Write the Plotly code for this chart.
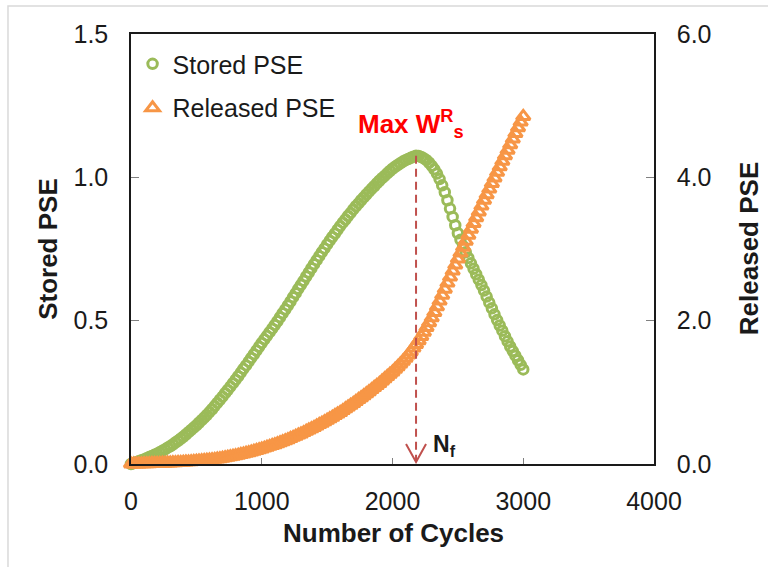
import plotly.graph_objects as go

# Cycle counts at which both energies were recorded
cycles = list(range(0, 3001, 20))

# Stored plastic strain energy (left axis)
stored_pse = [
    0.000,
    0.003, 0.006, 0.010, 0.013, 0.016,
    0.020, 0.024, 0.028, 0.032, 0.036,
    0.041, 0.046, 0.051, 0.057, 0.062,
    0.068, 0.075, 0.081, 0.088, 0.095,
    0.103, 0.111, 0.119, 0.127, 0.135,
    0.144, 0.153, 0.162, 0.171, 0.181,
    0.191, 0.202, 0.213, 0.224, 0.235,
    0.247, 0.258, 0.270, 0.282, 0.294,
    0.306, 0.319, 0.332, 0.344, 0.357,
    0.370, 0.383, 0.396, 0.409, 0.422,
    0.435, 0.447, 0.460, 0.472, 0.485,
    0.498, 0.512, 0.526, 0.539, 0.553,
    0.567, 0.582, 0.596, 0.611, 0.625,
    0.639, 0.654, 0.668, 0.683, 0.697,
    0.711, 0.725, 0.739, 0.752, 0.766,
    0.779, 0.792, 0.804, 0.817, 0.830,
    0.842, 0.853, 0.865, 0.876, 0.888,
    0.899, 0.909, 0.920, 0.930, 0.940,
    0.950, 0.960, 0.969, 0.979, 0.988,
    0.997, 1.005, 1.014, 1.022, 1.030,
    1.037, 1.043, 1.049, 1.055, 1.060,
    1.064, 1.068, 1.072, 1.075, 1.074,
    1.071, 1.066, 1.060, 1.051, 1.040,
    1.028, 1.013, 0.994, 0.972, 0.948,
    0.920, 0.891, 0.862, 0.833, 0.805,
    0.782, 0.760, 0.739, 0.719, 0.700,
    0.681, 0.662, 0.643, 0.624, 0.605,
    0.584, 0.563, 0.543, 0.522, 0.502,
    0.483, 0.465, 0.446, 0.428, 0.410,
    0.394, 0.378, 0.362, 0.346, 0.330,
]

# Released plastic strain energy (right axis)
released_pse = [
    0.000,
    0.000, 0.001, 0.001, 0.002, 0.003,
    0.004, 0.005, 0.006, 0.007, 0.008,
    0.009, 0.011, 0.012, 0.014, 0.015,
    0.017, 0.019, 0.021, 0.023, 0.025,
    0.028, 0.030, 0.033, 0.035, 0.038,
    0.041, 0.045, 0.049, 0.052, 0.056,
    0.061, 0.065, 0.070, 0.075, 0.080,
    0.087, 0.094, 0.101, 0.108, 0.115,
    0.123, 0.132, 0.141, 0.149, 0.158,
    0.168, 0.178, 0.189, 0.199, 0.210,
    0.222, 0.234, 0.246, 0.258, 0.270,
    0.284, 0.298, 0.312, 0.326, 0.340,
    0.356, 0.372, 0.388, 0.404, 0.420,
    0.438, 0.456, 0.474, 0.492, 0.510,
    0.530, 0.550, 0.570, 0.590, 0.610,
    0.632, 0.654, 0.676, 0.698, 0.720,
    0.745, 0.770, 0.795, 0.820, 0.845,
    0.872, 0.899, 0.926, 0.953, 0.980,
    1.009, 1.038, 1.067, 1.096, 1.125,
    1.157, 1.189, 1.221, 1.253, 1.285,
    1.321, 1.358, 1.396, 1.435, 1.475,
    1.520, 1.566, 1.617, 1.668, 1.720,
    1.780, 1.840, 1.905, 1.972, 2.040,
    2.115, 2.193, 2.273, 2.356, 2.440,
    2.524, 2.608, 2.692, 2.776, 2.860,
    2.943, 3.026, 3.109, 3.192, 3.275,
    3.356, 3.437, 3.518, 3.599, 3.680,
    3.758, 3.836, 3.914, 3.992, 4.070,
    4.147, 4.224, 4.301, 4.378, 4.455,
    4.534, 4.613, 4.692, 4.771, 4.850,
]

x_ticks = [0, 1000, 2000, 3000, 4000]
stored_ticks = [0.0, 0.5, 1.0, 1.5]
released_ticks = [0.0, 2.0, 4.0, 6.0]

GREEN = "#9BBB59"
ORANGE = "#F79646"
DASH_RED = "#C0504D"
TEXT = "#1a1a1a"
FONT = "Liberation Sans, Arial, sans-serif"

# Cycle at which the stored energy peaks
peak_idx = max(range(len(stored_pse)), key=lambda i: stored_pse[i])
nf_cycle = cycles[peak_idx]
peak_value = stored_pse[peak_idx]

# plot area geometry (pixels) used to size the arrow head
plot_w, plot_h = 523, 430
dx = (x_ticks[-1] - x_ticks[0]) / plot_w
dy = (stored_ticks[-1] - stored_ticks[0]) / plot_h

fig = go.Figure()
fig.add_trace(go.Scatter(
    x=cycles, y=stored_pse, mode="markers", name="Stored PSE",
    marker=dict(symbol="circle-open", size=9.5, color=GREEN, line=dict(width=3)),
    cliponaxis=False, legend="legend", showlegend=True,
))
fig.add_trace(go.Scatter(
    x=cycles, y=released_pse, mode="markers", name="Released PSE", yaxis="y2",
    marker=dict(symbol="triangle-up-open", size=12, color=ORANGE, line=dict(width=3)),
    cliponaxis=False, legend="legend2", showlegend=True,
))

axis_common = dict(
    showgrid=False, zeroline=False, showline=True, linecolor=TEXT, linewidth=1.5,
    ticks="inside", tickcolor="#808080", tickwidth=1,
    tickfont=dict(family=FONT, size=25, color=TEXT),
)

legend_common = dict(xanchor="left", yanchor="middle", bgcolor="rgba(0,0,0,0)",
                     font=dict(family=FONT, size=25, color=TEXT))

fig.update_layout(
    width=768, height=567,
    margin=dict(l=131, r=114, t=34, b=103),
    paper_bgcolor="white", plot_bgcolor="white",
    font=dict(family=FONT, color=TEXT),
    showlegend=True,
    xaxis=dict(range=[x_ticks[0], x_ticks[-1]], tickvals=x_ticks, tickformat="d",
               ticklen=6, mirror=True, ticklabelstandoff=14, **axis_common),
    yaxis=dict(range=[stored_ticks[0], stored_ticks[-1]], tickvals=stored_ticks,
               tickformat=".1f", ticklen=8, ticklabelstandoff=16, **axis_common),
    yaxis2=dict(range=[released_ticks[0], released_ticks[-1]], tickvals=released_ticks,
                tickformat=".1f", ticklen=8, overlaying="y", side="right",
                ticklabelstandoff=16, **axis_common),
    legend=dict(x=0.003, y=0.930, **legend_common),
    legend2=dict(x=0.003, y=0.828, **legend_common),
)

# axis titles
title_font = dict(family=FONT, size=26, color=TEXT)
fig.add_annotation(text="<b>Number of Cycles</b>", xref="paper", yref="paper",
                   x=0.501, y=-0.160, xanchor="center", yanchor="middle",
                   showarrow=False, font=title_font)
fig.add_annotation(text="<b>Stored PSE</b>", xref="paper", yref="paper",
                   x=-0.159, y=0.5, xanchor="center", yanchor="middle",
                   textangle=-90, showarrow=False, font=title_font)
fig.add_annotation(text="<b>Released PSE</b>", xref="paper", yref="paper",
                   x=1.182, y=0.5, xanchor="center", yanchor="middle",
                   textangle=-90, showarrow=False, font=title_font)

# peak marker: dashed drop line with an open arrow head
tip_y = 2 * dy
fig.add_shape(type="line", xref="x", yref="y", x0=nf_cycle, x1=nf_cycle,
              y0=peak_value, y1=tip_y,
              line=dict(color=DASH_RED, width=2, dash="8px,5px"))
fig.add_shape(type="path", xref="x", yref="y",
              path=(f"M {nf_cycle - 10 * dx},{tip_y + 18 * dy} "
                    f"L {nf_cycle},{tip_y} "
                    f"L {nf_cycle + 10 * dx},{tip_y + 18 * dy}"),
              line=dict(color=DASH_RED, width=2))

fig.add_annotation(text="<b>Max W<sup>R</sup><sub>s</sub></b>", xref="x", yref="paper",
                   x=nf_cycle, xshift=-5, y=0.791, xanchor="center", yanchor="middle",
                   showarrow=False, font=dict(family=FONT, size=26, color="#FF0000"))
fig.add_annotation(text="<b>N<sub>f</sub></b>", xref="x", yref="paper",
                   x=nf_cycle, xshift=15, y=0.044, xanchor="left", yanchor="middle",
                   showarrow=False, font=dict(family=FONT, size=23, color=TEXT))

# light outer chart border
fig.add_shape(type="rect", xref="paper", yref="paper",
              x0=-0.2352, x1=1.25, y0=-0.3, y1=1.0651,
              line=dict(color="#D9D9D9", width=1.5), layer="below")

fig.write_html("out.html")
